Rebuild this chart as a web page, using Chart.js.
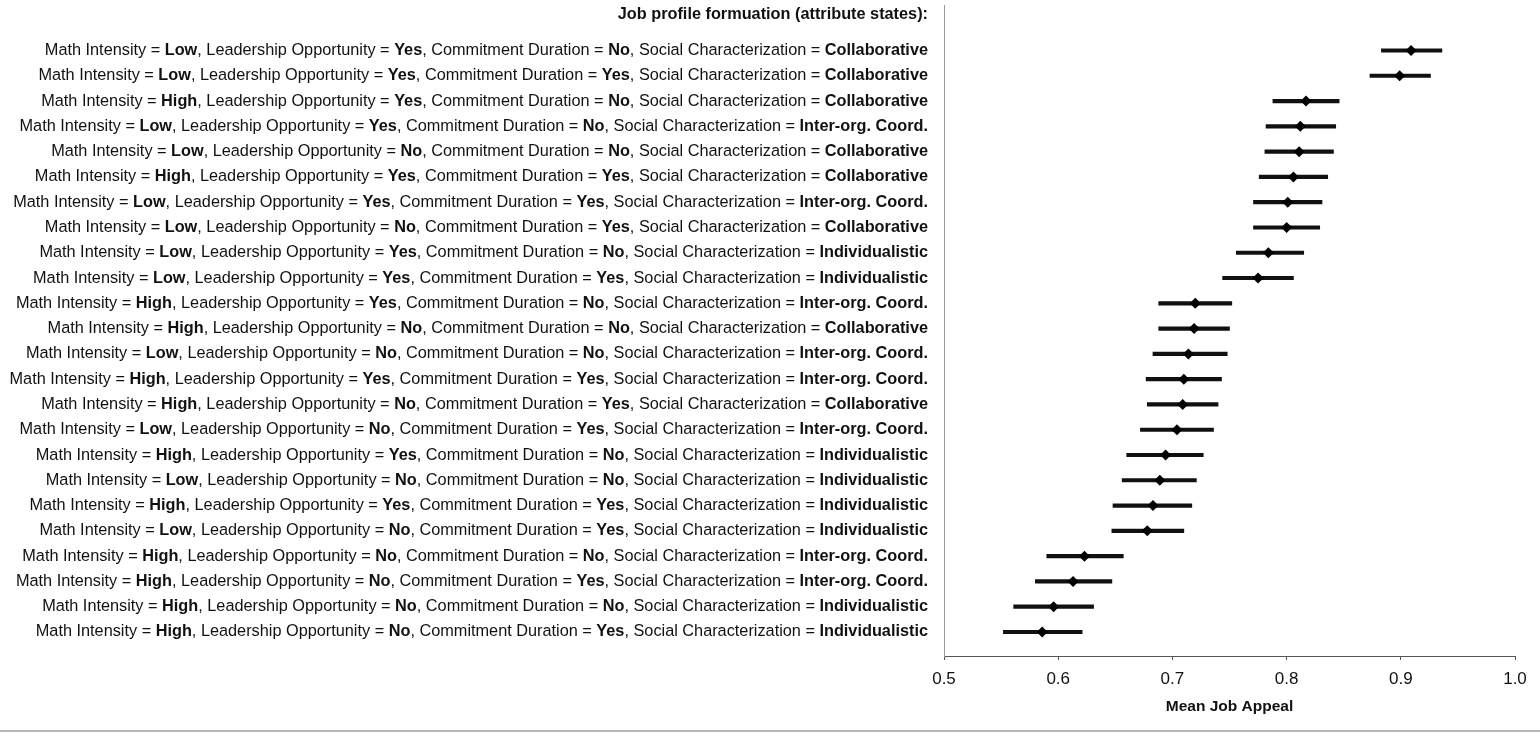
<!DOCTYPE html>
<html>
<head>
<meta charset="utf-8">
<title>Mean Job Appeal by job profile</title>
<script src="https://cdn.jsdelivr.net/npm/chart.js@4.4.0/dist/chart.umd.min.js"></script>
<style>
  html, body { margin: 0; padding: 0; background: #fff; }
  #wrap { position: relative; width: 1540px; height: 733px; overflow: hidden; }
  #rule { position: absolute; left: 0; right: 0; top: 730px; height: 2px; background: #b8b8b8; }
</style>
</head>
<body>
<div id="wrap">
  <canvas id="chart" width="1540" height="733"></canvas>
  <div id="rule"></div>
</div>
<script>
/* ── Data (top row first) ─────────────────────────────────────────────── */
const mathIntensity = ['Low', 'Low', 'High', 'Low', 'Low', 'High', 'Low', 'Low', 'Low', 'Low', 'High', 'High',
                       'Low', 'High', 'High', 'Low', 'High', 'Low', 'High', 'Low', 'High', 'High', 'High', 'High'];
const leadership    = ['Yes', 'Yes', 'Yes', 'Yes', 'No', 'Yes', 'Yes', 'No', 'Yes', 'Yes', 'Yes', 'No',
                       'No', 'Yes', 'No', 'No', 'Yes', 'No', 'Yes', 'No', 'No', 'No', 'No', 'No'];
const commitment    = ['No', 'Yes', 'No', 'No', 'No', 'Yes', 'Yes', 'Yes', 'No', 'Yes', 'No', 'No',
                       'No', 'Yes', 'Yes', 'Yes', 'No', 'No', 'Yes', 'Yes', 'No', 'Yes', 'No', 'Yes'];
const social        = ['Collaborative', 'Collaborative', 'Collaborative', 'Inter-org. Coord.', 'Collaborative',
                       'Collaborative', 'Inter-org. Coord.', 'Collaborative', 'Individualistic', 'Individualistic',
                       'Inter-org. Coord.', 'Collaborative', 'Inter-org. Coord.', 'Inter-org. Coord.', 'Collaborative',
                       'Inter-org. Coord.', 'Individualistic', 'Individualistic', 'Individualistic', 'Individualistic',
                       'Inter-org. Coord.', 'Inter-org. Coord.', 'Individualistic', 'Individualistic'];

const meanAppeal = [0.909, 0.899, 0.817, 0.812, 0.811, 0.806, 0.801, 0.800, 0.784, 0.775, 0.720, 0.719,
                    0.714, 0.710, 0.709, 0.704, 0.694, 0.689, 0.683, 0.678, 0.623, 0.613, 0.596, 0.586];
const ciLow      = [0.883, 0.873, 0.788, 0.782, 0.781, 0.776, 0.771, 0.771, 0.756, 0.744, 0.688, 0.688,
                    0.683, 0.677, 0.678, 0.672, 0.660, 0.656, 0.648, 0.647, 0.590, 0.580, 0.561, 0.552];
const ciHigh     = [0.936, 0.926, 0.846, 0.843, 0.841, 0.836, 0.831, 0.829, 0.815, 0.806, 0.752, 0.750,
                    0.748, 0.743, 0.740, 0.736, 0.727, 0.721, 0.717, 0.710, 0.657, 0.647, 0.631, 0.621];

const xTicks = [0.5, 0.6, 0.7, 0.8, 0.9, 1.0];
const rowIndex = meanAppeal.map((_, i) => i + 1);

const FONT = '"Liberation Sans", Arial, Helvetica, sans-serif';

/* ── Row labels with bold attribute states, drawn against the y scale ─── */
const profileLabels = {
  id: 'profileLabels',
  afterDraw(chart) {
    const { ctx } = chart;
    const yScale = chart.scales.y;
    const right = yScale.right - 16;
    const normal = '16.3px ' + FONT;
    const bold = 'bold 16.3px ' + FONT;

    ctx.save();
    ctx.fillStyle = '#111';
    ctx.textBaseline = 'middle';
    ctx.textAlign = 'left';

    rowIndex.forEach((row, i) => {
      const parts = [
        ['Math Intensity = ', normal], [mathIntensity[i], bold],
        [', Leadership Opportunity = ', normal], [leadership[i], bold],
        [', Commitment Duration = ', normal], [commitment[i], bold],
        [', Social Characterization = ', normal], [social[i], bold],
      ];
      let total = 0;
      const widths = parts.map(([t, f]) => { ctx.font = f; const w = ctx.measureText(t).width; total += w; return w; });
      let x = right - total;
      const y = yScale.getPixelForValue(row);
      parts.forEach(([t, f], k) => { ctx.font = f; ctx.fillText(t, x, y); x += widths[k]; });
    });

    ctx.font = 'bold 16.3px ' + FONT;
    ctx.textAlign = 'right';
    ctx.fillText('Job profile formuation (attribute states):', right, yScale.getPixelForValue(0) - 11);
    ctx.restore();
  }
};

/* ── Chart ────────────────────────────────────────────────────────────── */
new Chart(document.getElementById('chart'), {
  type: 'bar',
  data: {
    datasets: [
      {
        type: 'scatter',
        label: 'Mean',
        data: rowIndex.map((row, i) => ({ x: meanAppeal[i], y: row })),
        pointStyle: 'rectRot',
        pointRadius: 5.5,
        backgroundColor: '#000',
        borderWidth: 0,
        order: 0,
      },
      {
        type: 'bar',
        label: 'Interval',
        data: rowIndex.map((row, i) => ({ x: [ciLow[i], ciHigh[i]], y: row })),
        backgroundColor: '#111',
        borderWidth: 0,
        barThickness: 3.5,
        order: 1,
      },
    ],
  },
  options: {
    indexAxis: 'y',
    responsive: false,
    animation: false,
    layout: { padding: { top: 0, right: 25, bottom: 0, left: 0 } },
    plugins: { legend: { display: false }, tooltip: { enabled: false } },
    scales: {
      x: {
        type: 'linear',
        min: 0.5,
        max: 1.0,
        afterBuildTicks: s => { s.ticks = xTicks.map(v => ({ value: v })); },
        ticks: { callback: v => v.toFixed(1), font: { size: 17, family: FONT }, color: '#111', padding: 9 },
        grid: { drawOnChartArea: false, drawTicks: true, tickLength: 4, color: '#555' },
        border: { display: true, color: '#555', width: 1 },
        title: {
          display: true,
          text: 'Mean Job Appeal',
          font: { size: 15.5, weight: 'bold', family: FONT },
          color: '#111',
          padding: { top: 4, bottom: 17 },
        },
        afterFit: s => { s.height = 77; },
      },
      y: {
        type: 'linear',
        reverse: true,
        offset: false,
        min: -0.78,
        max: 24.95,
        ticks: { display: false },
        grid: { display: false, offset: false },
        border: { display: true, color: '#9a9a9a', width: 1 },
        afterFit: s => { s.width = 944; },
      },
    },
  },
  plugins: [profileLabels],
});
</script>
</body>
</html>
